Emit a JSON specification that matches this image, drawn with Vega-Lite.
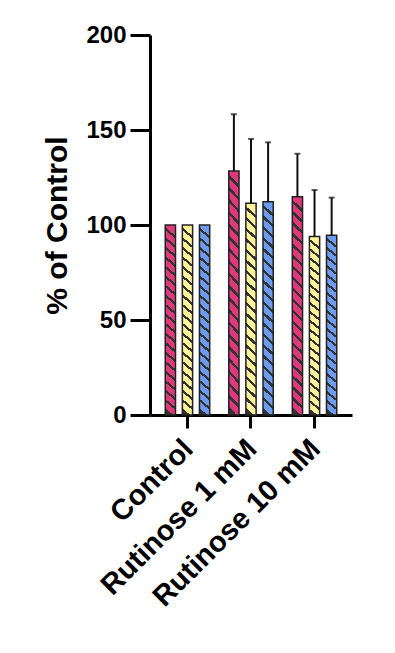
{
  "$schema": "https://vega.github.io/schema/vega-lite/v6.json",
  "width": 202,
  "height": 380,
  "autosize": {"type": "none"},
  "padding": {"left": 150, "top": 35, "right": 43, "bottom": 238},
  "background": "white",
  "data": {
    "values": [
      {"group": "Control", "series": "Set 1", "value": 100, "upper": null},
      {"group": "Control", "series": "Set 2", "value": 100, "upper": null},
      {"group": "Control", "series": "Set 3", "value": 100, "upper": null},
      {"group": "Rutinose 1 mM", "series": "Set 1", "value": 128.4, "upper": 158.3},
      {"group": "Rutinose 1 mM", "series": "Set 2", "value": 111.4, "upper": 145.3},
      {"group": "Rutinose 1 mM", "series": "Set 3", "value": 112.3, "upper": 143.5},
      {"group": "Rutinose 10 mM", "series": "Set 1", "value": 114.9, "upper": 137.5},
      {"group": "Rutinose 10 mM", "series": "Set 2", "value": 93.9, "upper": 118.4},
      {"group": "Rutinose 10 mM", "series": "Set 3", "value": 94.6, "upper": 114.4}
    ]
  },
  "encoding": {
    "x": {
      "field": "group", "type": "nominal",
      "sort": ["Control", "Rutinose 1 mM", "Rutinose 10 mM"],
      "scale": {"paddingInner": 0.3, "paddingOuter": 0.24},
      "axis": {"title": null}
    },
    "xOffset": {
      "field": "series", "type": "nominal",
      "scale": {"domain": ["Set 1", "Set 2", "Set 3"], "paddingInner": 0.4, "paddingOuter": 0}
    },
    "y": {
      "field": "value", "type": "quantitative",
      "scale": {"domain": [0, 200]},
      "title": "% of Control",
      "axis": {"values": [0, 50, 100, 150, 200]}
    }
  },
  "layer": [
    {
      "transform": [{"filter": "datum.series === 'Set 1'"}],
      "mark": {
        "type": "bar", "stroke": "#222222", "strokeWidth": 1.5,
        "fill": {"gradient": "linear", "x1": 0.5, "y1": 0, "x2": 0.455, "y2": 1, "stops": [
          {"offset":0,"color":"#e0387a"},{"offset":0.035,"color":"#e0387a"},{"offset":0.035,"color":"#333333"},{"offset":0.05,"color":"#333333"},
          {"offset":0.05,"color":"#e0387a"},{"offset":0.085,"color":"#e0387a"},{"offset":0.085,"color":"#333333"},{"offset":0.1,"color":"#333333"},
          {"offset":0.1,"color":"#e0387a"},{"offset":0.135,"color":"#e0387a"},{"offset":0.135,"color":"#333333"},{"offset":0.15,"color":"#333333"},
          {"offset":0.15,"color":"#e0387a"},{"offset":0.185,"color":"#e0387a"},{"offset":0.185,"color":"#333333"},{"offset":0.2,"color":"#333333"},
          {"offset":0.2,"color":"#e0387a"},{"offset":0.235,"color":"#e0387a"},{"offset":0.235,"color":"#333333"},{"offset":0.25,"color":"#333333"},
          {"offset":0.25,"color":"#e0387a"},{"offset":0.285,"color":"#e0387a"},{"offset":0.285,"color":"#333333"},{"offset":0.3,"color":"#333333"},
          {"offset":0.3,"color":"#e0387a"},{"offset":0.335,"color":"#e0387a"},{"offset":0.335,"color":"#333333"},{"offset":0.35,"color":"#333333"},
          {"offset":0.35,"color":"#e0387a"},{"offset":0.385,"color":"#e0387a"},{"offset":0.385,"color":"#333333"},{"offset":0.4,"color":"#333333"},
          {"offset":0.4,"color":"#e0387a"},{"offset":0.435,"color":"#e0387a"},{"offset":0.435,"color":"#333333"},{"offset":0.45,"color":"#333333"},
          {"offset":0.45,"color":"#e0387a"},{"offset":0.485,"color":"#e0387a"},{"offset":0.485,"color":"#333333"},{"offset":0.5,"color":"#333333"},
          {"offset":0.5,"color":"#e0387a"},{"offset":0.535,"color":"#e0387a"},{"offset":0.535,"color":"#333333"},{"offset":0.55,"color":"#333333"},
          {"offset":0.55,"color":"#e0387a"},{"offset":0.585,"color":"#e0387a"},{"offset":0.585,"color":"#333333"},{"offset":0.6,"color":"#333333"},
          {"offset":0.6,"color":"#e0387a"},{"offset":0.635,"color":"#e0387a"},{"offset":0.635,"color":"#333333"},{"offset":0.65,"color":"#333333"},
          {"offset":0.65,"color":"#e0387a"},{"offset":0.685,"color":"#e0387a"},{"offset":0.685,"color":"#333333"},{"offset":0.7,"color":"#333333"},
          {"offset":0.7,"color":"#e0387a"},{"offset":0.735,"color":"#e0387a"},{"offset":0.735,"color":"#333333"},{"offset":0.75,"color":"#333333"},
          {"offset":0.75,"color":"#e0387a"},{"offset":0.785,"color":"#e0387a"},{"offset":0.785,"color":"#333333"},{"offset":0.8,"color":"#333333"},
          {"offset":0.8,"color":"#e0387a"},{"offset":0.835,"color":"#e0387a"},{"offset":0.835,"color":"#333333"},{"offset":0.85,"color":"#333333"},
          {"offset":0.85,"color":"#e0387a"},{"offset":0.885,"color":"#e0387a"},{"offset":0.885,"color":"#333333"},{"offset":0.9,"color":"#333333"},
          {"offset":0.9,"color":"#e0387a"},{"offset":0.935,"color":"#e0387a"},{"offset":0.935,"color":"#333333"},{"offset":0.95,"color":"#333333"},
          {"offset":0.95,"color":"#e0387a"},{"offset":0.985,"color":"#e0387a"},{"offset":0.985,"color":"#333333"},{"offset":1,"color":"#333333"}
        ]}
      }
    },
    {
      "transform": [{"filter": "datum.series === 'Set 2'"}],
      "mark": {
        "type": "bar", "stroke": "#222222", "strokeWidth": 1.5,
        "fill": {"gradient": "linear", "x1": 0.5, "y1": 0, "x2": 0.455, "y2": 1, "stops": [
          {"offset":0,"color":"#fdf49a"},{"offset":0.035,"color":"#fdf49a"},{"offset":0.035,"color":"#333333"},{"offset":0.05,"color":"#333333"},
          {"offset":0.05,"color":"#fdf49a"},{"offset":0.085,"color":"#fdf49a"},{"offset":0.085,"color":"#333333"},{"offset":0.1,"color":"#333333"},
          {"offset":0.1,"color":"#fdf49a"},{"offset":0.135,"color":"#fdf49a"},{"offset":0.135,"color":"#333333"},{"offset":0.15,"color":"#333333"},
          {"offset":0.15,"color":"#fdf49a"},{"offset":0.185,"color":"#fdf49a"},{"offset":0.185,"color":"#333333"},{"offset":0.2,"color":"#333333"},
          {"offset":0.2,"color":"#fdf49a"},{"offset":0.235,"color":"#fdf49a"},{"offset":0.235,"color":"#333333"},{"offset":0.25,"color":"#333333"},
          {"offset":0.25,"color":"#fdf49a"},{"offset":0.285,"color":"#fdf49a"},{"offset":0.285,"color":"#333333"},{"offset":0.3,"color":"#333333"},
          {"offset":0.3,"color":"#fdf49a"},{"offset":0.335,"color":"#fdf49a"},{"offset":0.335,"color":"#333333"},{"offset":0.35,"color":"#333333"},
          {"offset":0.35,"color":"#fdf49a"},{"offset":0.385,"color":"#fdf49a"},{"offset":0.385,"color":"#333333"},{"offset":0.4,"color":"#333333"},
          {"offset":0.4,"color":"#fdf49a"},{"offset":0.435,"color":"#fdf49a"},{"offset":0.435,"color":"#333333"},{"offset":0.45,"color":"#333333"},
          {"offset":0.45,"color":"#fdf49a"},{"offset":0.485,"color":"#fdf49a"},{"offset":0.485,"color":"#333333"},{"offset":0.5,"color":"#333333"},
          {"offset":0.5,"color":"#fdf49a"},{"offset":0.535,"color":"#fdf49a"},{"offset":0.535,"color":"#333333"},{"offset":0.55,"color":"#333333"},
          {"offset":0.55,"color":"#fdf49a"},{"offset":0.585,"color":"#fdf49a"},{"offset":0.585,"color":"#333333"},{"offset":0.6,"color":"#333333"},
          {"offset":0.6,"color":"#fdf49a"},{"offset":0.635,"color":"#fdf49a"},{"offset":0.635,"color":"#333333"},{"offset":0.65,"color":"#333333"},
          {"offset":0.65,"color":"#fdf49a"},{"offset":0.685,"color":"#fdf49a"},{"offset":0.685,"color":"#333333"},{"offset":0.7,"color":"#333333"},
          {"offset":0.7,"color":"#fdf49a"},{"offset":0.735,"color":"#fdf49a"},{"offset":0.735,"color":"#333333"},{"offset":0.75,"color":"#333333"},
          {"offset":0.75,"color":"#fdf49a"},{"offset":0.785,"color":"#fdf49a"},{"offset":0.785,"color":"#333333"},{"offset":0.8,"color":"#333333"},
          {"offset":0.8,"color":"#fdf49a"},{"offset":0.835,"color":"#fdf49a"},{"offset":0.835,"color":"#333333"},{"offset":0.85,"color":"#333333"},
          {"offset":0.85,"color":"#fdf49a"},{"offset":0.885,"color":"#fdf49a"},{"offset":0.885,"color":"#333333"},{"offset":0.9,"color":"#333333"},
          {"offset":0.9,"color":"#fdf49a"},{"offset":0.935,"color":"#fdf49a"},{"offset":0.935,"color":"#333333"},{"offset":0.95,"color":"#333333"},
          {"offset":0.95,"color":"#fdf49a"},{"offset":0.985,"color":"#fdf49a"},{"offset":0.985,"color":"#333333"},{"offset":1,"color":"#333333"}
        ]}
      }
    },
    {
      "transform": [{"filter": "datum.series === 'Set 3'"}],
      "mark": {
        "type": "bar", "stroke": "#222222", "strokeWidth": 1.5,
        "fill": {"gradient": "linear", "x1": 0.5, "y1": 0, "x2": 0.455, "y2": 1, "stops": [
          {"offset":0,"color":"#6b9cf2"},{"offset":0.035,"color":"#6b9cf2"},{"offset":0.035,"color":"#333333"},{"offset":0.05,"color":"#333333"},
          {"offset":0.05,"color":"#6b9cf2"},{"offset":0.085,"color":"#6b9cf2"},{"offset":0.085,"color":"#333333"},{"offset":0.1,"color":"#333333"},
          {"offset":0.1,"color":"#6b9cf2"},{"offset":0.135,"color":"#6b9cf2"},{"offset":0.135,"color":"#333333"},{"offset":0.15,"color":"#333333"},
          {"offset":0.15,"color":"#6b9cf2"},{"offset":0.185,"color":"#6b9cf2"},{"offset":0.185,"color":"#333333"},{"offset":0.2,"color":"#333333"},
          {"offset":0.2,"color":"#6b9cf2"},{"offset":0.235,"color":"#6b9cf2"},{"offset":0.235,"color":"#333333"},{"offset":0.25,"color":"#333333"},
          {"offset":0.25,"color":"#6b9cf2"},{"offset":0.285,"color":"#6b9cf2"},{"offset":0.285,"color":"#333333"},{"offset":0.3,"color":"#333333"},
          {"offset":0.3,"color":"#6b9cf2"},{"offset":0.335,"color":"#6b9cf2"},{"offset":0.335,"color":"#333333"},{"offset":0.35,"color":"#333333"},
          {"offset":0.35,"color":"#6b9cf2"},{"offset":0.385,"color":"#6b9cf2"},{"offset":0.385,"color":"#333333"},{"offset":0.4,"color":"#333333"},
          {"offset":0.4,"color":"#6b9cf2"},{"offset":0.435,"color":"#6b9cf2"},{"offset":0.435,"color":"#333333"},{"offset":0.45,"color":"#333333"},
          {"offset":0.45,"color":"#6b9cf2"},{"offset":0.485,"color":"#6b9cf2"},{"offset":0.485,"color":"#333333"},{"offset":0.5,"color":"#333333"},
          {"offset":0.5,"color":"#6b9cf2"},{"offset":0.535,"color":"#6b9cf2"},{"offset":0.535,"color":"#333333"},{"offset":0.55,"color":"#333333"},
          {"offset":0.55,"color":"#6b9cf2"},{"offset":0.585,"color":"#6b9cf2"},{"offset":0.585,"color":"#333333"},{"offset":0.6,"color":"#333333"},
          {"offset":0.6,"color":"#6b9cf2"},{"offset":0.635,"color":"#6b9cf2"},{"offset":0.635,"color":"#333333"},{"offset":0.65,"color":"#333333"},
          {"offset":0.65,"color":"#6b9cf2"},{"offset":0.685,"color":"#6b9cf2"},{"offset":0.685,"color":"#333333"},{"offset":0.7,"color":"#333333"},
          {"offset":0.7,"color":"#6b9cf2"},{"offset":0.735,"color":"#6b9cf2"},{"offset":0.735,"color":"#333333"},{"offset":0.75,"color":"#333333"},
          {"offset":0.75,"color":"#6b9cf2"},{"offset":0.785,"color":"#6b9cf2"},{"offset":0.785,"color":"#333333"},{"offset":0.8,"color":"#333333"},
          {"offset":0.8,"color":"#6b9cf2"},{"offset":0.835,"color":"#6b9cf2"},{"offset":0.835,"color":"#333333"},{"offset":0.85,"color":"#333333"},
          {"offset":0.85,"color":"#6b9cf2"},{"offset":0.885,"color":"#6b9cf2"},{"offset":0.885,"color":"#333333"},{"offset":0.9,"color":"#333333"},
          {"offset":0.9,"color":"#6b9cf2"},{"offset":0.935,"color":"#6b9cf2"},{"offset":0.935,"color":"#333333"},{"offset":0.95,"color":"#333333"},
          {"offset":0.95,"color":"#6b9cf2"},{"offset":0.985,"color":"#6b9cf2"},{"offset":0.985,"color":"#333333"},{"offset":1,"color":"#333333"}
        ]}
      }
    },
    {
      "transform": [{"filter": "datum.upper != null"}],
      "mark": {"type": "rule", "color": "#111111", "strokeWidth": 2},
      "encoding": {"y2": {"field": "upper"}}
    },
    {
      "transform": [{"filter": "datum.upper != null"}],
      "mark": {"type": "tick", "color": "#111111", "thickness": 2, "size": 6},
      "encoding": {
        "y": {"field": "upper", "type": "quantitative", "title": "% of Control", "scale": {"domain": [0, 200]}}
      }
    }
  ],
  "config": {
    "view": {"stroke": null},
    "axis": {
      "grid": false,
      "domainColor": "#000000",
      "domainWidth": 3,
      "tickColor": "#000000",
      "tickWidth": 3,
      "labelFont": "Liberation Sans",
      "labelFontWeight": "bold",
      "labelColor": "#000000",
      "titleFont": "Liberation Sans",
      "titleFontWeight": "bold",
      "titleColor": "#000000",
      "zindex": 1
    },
    "axisY": {
      "tickSize": 20,
      "labelPadding": 4,
      "labelFontSize": 24,
      "titleFontSize": 30,
      "titleX": -84,
      "titleY": 190,
      "titleAngle": -90,
      "titleAlign": "center",
      "titleBaseline": "alphabetic"
    },
    "axisX": {
      "tickSize": 13,
      "labelPadding": 6,
      "labelOffset": -9,
      "labelFontSize": 29,
      "labelLimit": 400,
      "labelAngle": -45,
      "labelAlign": "right",
      "labelBaseline": "top"
    }
  }
}
